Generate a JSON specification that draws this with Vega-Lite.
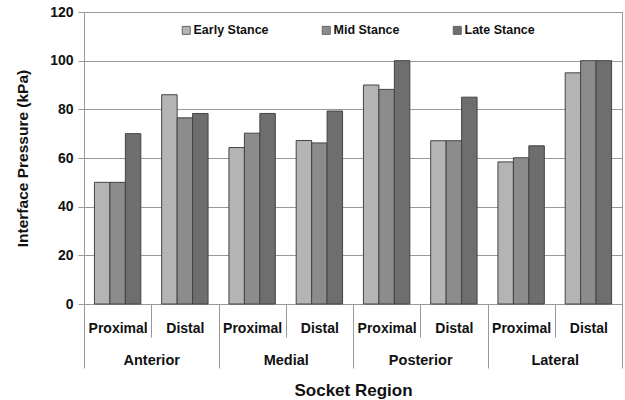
{
  "$schema": "https://vega.github.io/schema/vega-lite/v6.json",
  "width": 538,
  "height": 292,
  "autosize": "none",
  "padding": {"left": 84, "top": 12, "right": 3, "bottom": 96},
  "background": "white",
  "config": {
    "font": "Liberation Sans",
    "view": {"stroke": "#999999", "strokeWidth": 1},
    "axis": {"labelFont": "Liberation Sans", "titleFont": "Liberation Sans", "labelFontWeight": "bold", "titleFontWeight": "bold", "labelColor": "#111111", "titleColor": "#111111"}
  },
  "data": {
    "values": [
      {"key": "Anterior Proximal", "region": "Anterior", "sub": "Proximal", "stance": "Early Stance", "p": 50},
      {"key": "Anterior Proximal", "region": "Anterior", "sub": "Proximal", "stance": "Mid Stance", "p": 50},
      {"key": "Anterior Proximal", "region": "Anterior", "sub": "Proximal", "stance": "Late Stance", "p": 70},
      {"key": "Anterior Distal", "region": "Anterior", "sub": "Distal", "stance": "Early Stance", "p": 86},
      {"key": "Anterior Distal", "region": "Anterior", "sub": "Distal", "stance": "Mid Stance", "p": 76.5},
      {"key": "Anterior Distal", "region": "Anterior", "sub": "Distal", "stance": "Late Stance", "p": 78.3},
      {"key": "Medial Proximal", "region": "Medial", "sub": "Proximal", "stance": "Early Stance", "p": 64.3},
      {"key": "Medial Proximal", "region": "Medial", "sub": "Proximal", "stance": "Mid Stance", "p": 70.2},
      {"key": "Medial Proximal", "region": "Medial", "sub": "Proximal", "stance": "Late Stance", "p": 78.3},
      {"key": "Medial Distal", "region": "Medial", "sub": "Distal", "stance": "Early Stance", "p": 67.2},
      {"key": "Medial Distal", "region": "Medial", "sub": "Distal", "stance": "Mid Stance", "p": 66.2},
      {"key": "Medial Distal", "region": "Medial", "sub": "Distal", "stance": "Late Stance", "p": 79.3},
      {"key": "Posterior Proximal", "region": "Posterior", "sub": "Proximal", "stance": "Early Stance", "p": 90},
      {"key": "Posterior Proximal", "region": "Posterior", "sub": "Proximal", "stance": "Mid Stance", "p": 88.2},
      {"key": "Posterior Proximal", "region": "Posterior", "sub": "Proximal", "stance": "Late Stance", "p": 100},
      {"key": "Posterior Distal", "region": "Posterior", "sub": "Distal", "stance": "Early Stance", "p": 67.1},
      {"key": "Posterior Distal", "region": "Posterior", "sub": "Distal", "stance": "Mid Stance", "p": 67.1},
      {"key": "Posterior Distal", "region": "Posterior", "sub": "Distal", "stance": "Late Stance", "p": 85},
      {"key": "Lateral Proximal", "region": "Lateral", "sub": "Proximal", "stance": "Early Stance", "p": 58.4},
      {"key": "Lateral Proximal", "region": "Lateral", "sub": "Proximal", "stance": "Mid Stance", "p": 60.1},
      {"key": "Lateral Proximal", "region": "Lateral", "sub": "Proximal", "stance": "Late Stance", "p": 65},
      {"key": "Lateral Distal", "region": "Lateral", "sub": "Distal", "stance": "Early Stance", "p": 95},
      {"key": "Lateral Distal", "region": "Lateral", "sub": "Distal", "stance": "Mid Stance", "p": 100},
      {"key": "Lateral Distal", "region": "Lateral", "sub": "Distal", "stance": "Late Stance", "p": 100}
    ]
  },
  "layer": [
    {
      "mark": {"type": "bar", "stroke": "#444444", "strokeWidth": 1},
      "encoding": {
        "x": {
          "field": "key", "type": "nominal", "sort": null,
          "scale": {"paddingInner": 0.31, "paddingOuter": 0.155},
          "axis": null
        },
        "xOffset": {"field": "stance", "type": "nominal", "sort": ["Early Stance", "Mid Stance", "Late Stance"], "scale": {"paddingInner": 0, "paddingOuter": 0}},
        "y": {
          "field": "p", "type": "quantitative",
          "scale": {"domain": [0, 120], "nice": false},
          "axis": {
            "title": "Interface Pressure (kPa)",
            "values": [0, 20, 40, 60, 80, 100, 120],
            "grid": true, "gridColor": "#999999", "gridWidth": 1,
            "domainColor": "#999999", "tickColor": "#999999", "tickSize": 6,
            "labelFontSize": 14, "labelPadding": 5,
            "titleFontSize": 15.5, "titleX": -62, "titleY": 146, "titleBaseline": "middle", "titleAngle": -90
          }
        },
        "color": {
          "field": "stance", "type": "nominal",
          "sort": ["Early Stance", "Mid Stance", "Late Stance"],
          "scale": {"domain": ["Early Stance", "Mid Stance", "Late Stance"], "range": ["#b4b4b4", "#8c8c8c", "#6e6e6e"]},
          "legend": {
            "title": null, "orient": "none", "direction": "horizontal",
            "legendX": 96, "legendY": 12, "padding": 0,
            "symbolType": "square", "symbolSize": 64, "symbolStrokeColor": "#666666", "symbolStrokeWidth": 1,
            "labelFontSize": 12.5, "labelFontWeight": "bold", "labelFont": "Liberation Sans", "labelColor": "#111111",
            "labelOffset": 1, "columnPadding": 51
          }
        }
      }
    },
    {
      "mark": {"type": "point", "opacity": 0},
      "encoding": {
        "x": {
          "datum": 0, "type": "quantitative",
          "scale": {"domain": [0, 8], "nice": false, "zero": false},
          "axis": {
            "orient": "bottom", "title": null,
            "values": [0, 1, 2, 3, 4, 5, 6, 7, 8],
            "labelExpr": "datum.value < 8 ? (datum.value % 2 == 0 ? 'Proximal' : 'Distal') : ''",
            "labelOffset": 33.6, "labelFlush": false, "labelOverlap": false, "labelBound": false,
            "labelBaseline": "middle", "labelPadding": -9, "labelFontSize": 14,
            "tickSize": 33, "tickColor": "#999999", "domainColor": "#999999", "grid": false
          }
        }
      }
    },
    {
      "mark": {"type": "point", "opacity": 0},
      "encoding": {
        "x": {
          "datum": 0, "type": "quantitative",
          "scale": {"domain": [0, 4], "nice": false, "zero": false},
          "axis": {
            "orient": "bottom", "title": "Socket Region",
            "values": [0, 1, 2, 3, 4],
            "labelExpr": "['Anterior', 'Medial', 'Posterior', 'Lateral', ''][datum.value]",
            "labelOffset": 67.2, "labelFlush": false, "labelOverlap": false, "labelBound": false,
            "labelBaseline": "middle", "labelPadding": -8, "labelFontSize": 14.5,
            "tickSize": 64, "tickColor": "#999999", "domain": false, "grid": false,
            "titleFontSize": 17, "titleY": 86, "titleBaseline": "middle"
          }
        }
      }
    }
  ],
  "resolve": {"scale": {"x": "independent"}, "axis": {"x": "independent"}}
}
